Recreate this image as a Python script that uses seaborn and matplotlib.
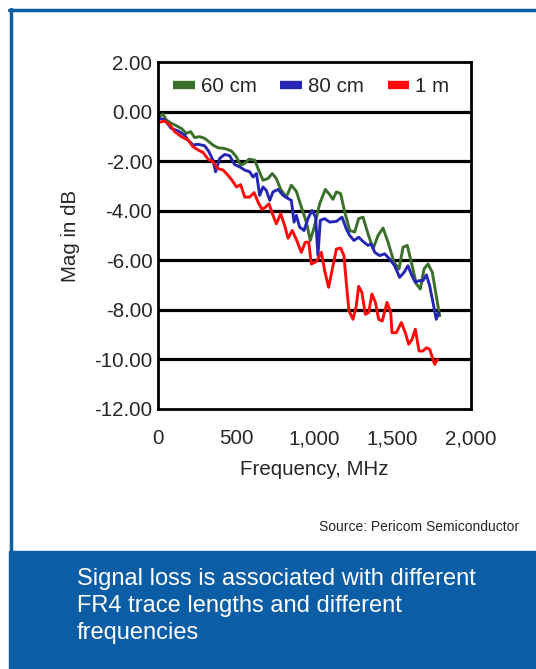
import numpy as np
import pandas as pd
import seaborn as sns
import matplotlib.pyplot as plt
import matplotlib.patches as patches
from matplotlib.lines import Line2D

# --- data (MHz, dB) ---
freq_60cm = [10, 32, 53, 85, 117, 149, 181, 209, 234, 266, 298, 320, 351, 383, 426, 469,
             500, 528, 554, 582, 618, 643, 671, 703, 730, 756, 784, 820, 852, 884, 916, 948,
             973, 1001, 1033, 1069, 1097, 1118, 1140, 1167, 1193, 1225, 1257, 1282, 1310,
             1342, 1374, 1406, 1438, 1470, 1508, 1540, 1566, 1593, 1623, 1651, 1676, 1700,
             1725, 1753, 1778, 1800]
mag_60cm = [-0.20, -0.10, -0.34, -0.47, -0.57, -0.68, -0.88, -0.81, -1.05, -1.01, -1.08,
            -1.19, -1.35, -1.46, -1.49, -1.59, -1.82, -2.16, -2.09, -1.92, -1.96, -2.36,
            -2.77, -2.70, -2.50, -2.70, -3.14, -3.45, -2.97, -3.22, -3.85, -4.46, -5.20,
            -4.60, -3.72, -3.14, -3.35, -3.54, -3.24, -3.31, -4.05, -4.80, -4.86, -4.32,
            -4.26, -4.93, -5.54, -5.00, -4.70, -5.27, -6.08, -6.35, -5.47, -5.40, -6.20,
            -6.96, -7.16, -6.35, -6.15, -6.49, -7.43, -8.24]

freq_80cm = [10, 43, 85, 128, 170, 192, 224, 256, 298, 324, 351, 368, 394, 426, 458, 490,
             522, 554, 586, 607, 629, 650, 671, 692, 714, 735, 767, 799, 831, 852, 869, 884,
             905, 933, 958, 984, 1007, 1022, 1037, 1065, 1097, 1140, 1176, 1203, 1225, 1252,
             1282, 1310, 1342, 1363, 1385, 1416, 1449, 1480, 1512, 1544, 1572, 1597, 1618,
             1644, 1668, 1693, 1715, 1736, 1757, 1778, 1793]
mag_80cm = [-0.27, -0.34, -0.68, -0.78, -0.95, -1.15, -1.35, -1.32, -1.38, -1.60, -1.96,
            -2.43, -1.89, -1.73, -1.78, -2.14, -2.23, -2.36, -2.43, -2.64, -2.50, -3.38,
            -3.04, -3.18, -3.58, -3.24, -3.14, -3.38, -3.51, -3.58, -4.46, -4.19, -4.66,
            -4.80, -4.32, -3.99, -4.26, -5.81, -4.39, -4.32, -4.46, -4.43, -4.26, -4.73,
            -5.00, -5.20, -5.07, -5.24, -5.40, -5.34, -5.68, -5.81, -5.74, -5.95, -6.22,
            -6.69, -6.49, -6.22, -6.55, -6.89, -6.82, -6.82, -6.59, -7.03, -7.70, -8.38,
            -8.11]

freq_1m = [10, 43, 75, 107, 149, 192, 224, 256, 288, 320, 351, 383, 416, 447, 473, 501,
           528, 554, 586, 614, 639, 665, 688, 709, 735, 756, 784, 809, 831, 858, 884, 916,
           941, 963, 980, 1012, 1044, 1065, 1090, 1114, 1140, 1167, 1188, 1203, 1220, 1246,
           1267, 1282, 1303, 1325, 1346, 1367, 1389, 1410, 1433, 1463, 1487, 1495, 1523,
           1555, 1580, 1602, 1623, 1644, 1668, 1693, 1715, 1736, 1757, 1768, 1785]
mag_1m = [-0.43, -0.38, -0.54, -0.81, -1.01, -1.15, -1.42, -1.55, -1.65, -1.92, -2.03,
          -2.30, -2.36, -2.57, -2.77, -3.04, -2.95, -3.45, -3.45, -3.27, -3.65, -3.95,
          -3.85, -3.72, -4.19, -4.53, -4.12, -4.59, -5.11, -4.80, -5.16, -5.68, -5.27,
          -5.27, -6.15, -6.05, -5.68, -6.42, -7.09, -6.35, -5.54, -5.51, -5.81, -6.89,
          -8.04, -8.38, -7.84, -7.05, -7.30, -8.18, -8.11, -7.36, -7.70, -8.38, -8.45,
          -7.70, -8.11, -8.92, -8.92, -8.51, -8.92, -9.39, -9.19, -8.78, -9.66, -9.66,
          -9.53, -9.59, -10.00, -10.20, -10.00]

series_names = ['60 cm', '80 cm', '1 m']
series_colors = ['#3b6f2c', '#2626b5', '#ff0a0a']
y_ticks = [2, 0, -2, -4, -6, -8, -10, -12]
x_ticks = [0, 500, 1000, 1500, 2000]
x_tick_labels = ['0', '500', '1,000', '1,500', '2,000']

source_text = 'Source: Pericom Semiconductor'
caption = 'Signal loss is associated with different\nFR4 trace lengths and different\nfrequencies'

df = pd.concat([
    pd.DataFrame({'freq': freq_60cm, 'mag': mag_60cm, 'trace': '60 cm'}),
    pd.DataFrame({'freq': freq_80cm, 'mag': mag_80cm, 'trace': '80 cm'}),
    pd.DataFrame({'freq': freq_1m, 'mag': mag_1m, 'trace': '1 m'}),
], ignore_index=True)

sns.set_style('white')
plt.rcParams['font.family'] = ['Liberation Sans', 'DejaVu Sans']

fig = plt.figure(figsize=(5.36, 6.69), dpi=100)
W, H = 536, 669
fs = 14.8

# frame + caption panel (figure coords)
blue = '#0b5ea5'
fig.patches.append(patches.Rectangle((9 / W, 0), 1, (H - 551) / H, transform=fig.transFigure,
                                     color=blue, zorder=0))
fig.add_artist(Line2D([9 / W, 1], [1 - 9.5 / H, 1 - 9.5 / H], color=blue, lw=2.5))
fig.add_artist(Line2D([10.5 / W, 10.5 / W], [1 - 9 / H, (H - 551) / H], color=blue, lw=2.5))

ax = fig.add_axes([158 / W, 1 - 409 / H, (471 - 158) / W, (409 - 62) / H])
sns.lineplot(data=df, x='freq', y='mag', hue='trace', hue_order=series_names,
             palette=series_colors, sort=False, estimator=None, lw=2.1, ax=ax, legend=False)

ax.set_xlim(0, 2000)
ax.set_ylim(-12, 2)
ax.set_yticks(y_ticks)
ax.set_yticklabels(['%.2f' % v for v in y_ticks])
ax.set_xticks(x_ticks)
ax.set_xticklabels(x_tick_labels)
ax.tick_params(axis='x', length=0, pad=14.5, labelsize=fs)
ax.tick_params(axis='y', length=0, pad=4, labelsize=fs)
for v in y_ticks[1:-1]:
    ax.axhline(v, color='black', lw=2.3, zorder=1)
for s in ax.spines.values():
    s.set_visible(True)
    s.set_color('black')
    s.set_linewidth(2.0)
ax.set_xlabel('Frequency, MHz', fontsize=fs, labelpad=8.5)
ax.set_ylabel('Mag in dB', fontsize=fs, labelpad=10)

handles = [Line2D([], [], color=c, lw=6, solid_capstyle='butt') for c in series_colors]
ax.legend(handles, series_names, loc='center', bbox_to_anchor=(0.49, 0.928), ncol=3,
          frameon=False, fontsize=fs, handlelength=1.05, handletextpad=0.3,
          columnspacing=1.15, borderpad=0)

fig.text(519 / W, 1 - 527 / H, source_text, ha='right', va='center', fontsize=10)
fig.text(77 / W, 1 - 568 / H, caption, ha='left', va='top', fontsize=17,
         color='white', linespacing=1.3)

fig.savefig('out.png', dpi=100)
